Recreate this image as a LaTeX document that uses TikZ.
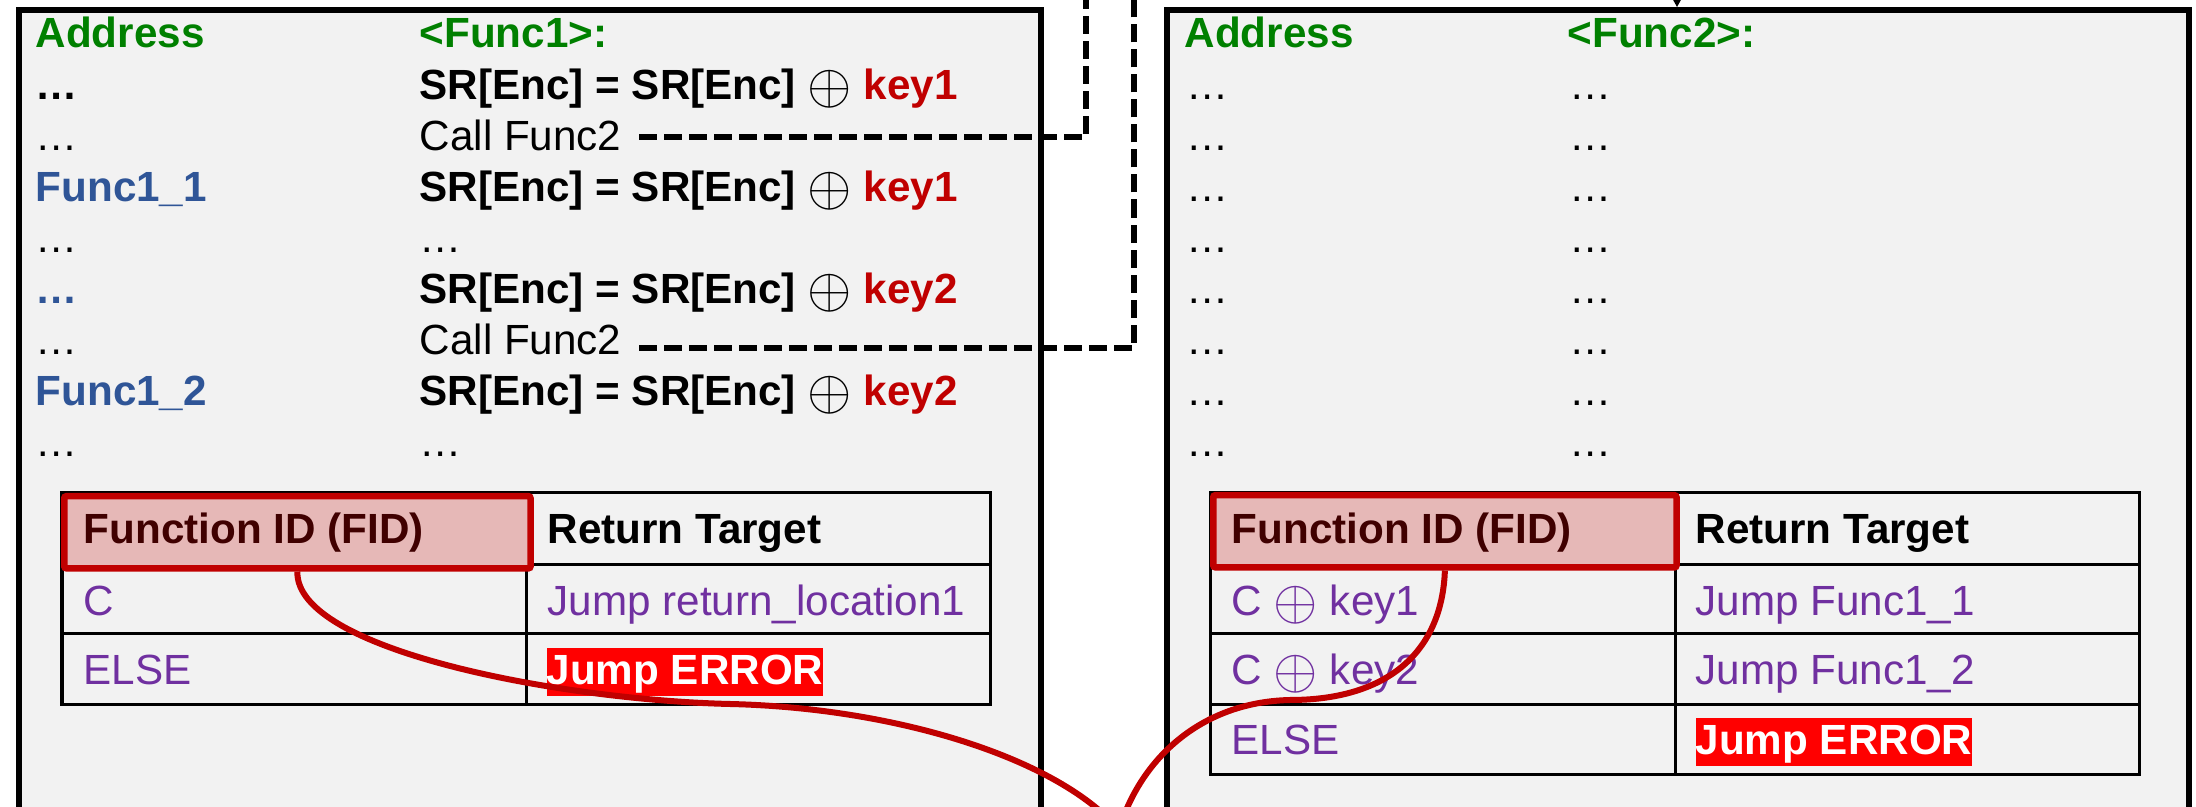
\documentclass[tikz,border=0pt]{standalone}
\usepackage{fontspec}
\setmainfont{Liberation Sans}
\usetikzlibrary{arrows.meta}

\definecolor{codegreen}{RGB}{0,128,0}
\definecolor{addrblue}{RGB}{47,85,151}
\definecolor{keyred}{RGB}{192,0,0}
\definecolor{fidpurple}{RGB}{112,48,160}
\definecolor{panelgrey}{RGB}{242,242,242}
\definecolor{fidfill}{RGB}{230,184,183}
\definecolor{fidtext}{RGB}{64,0,0}
\definecolor{errred}{RGB}{255,0,0}

% a larger, thin xor sign
\newcommand{\bigxor}{\raisebox{-0.9pt}{\scalebox{1.35}{$\oplus$}}}
% one encrypted-shadow-register update line
\newcommand{\srline}[1]{\textbf{SR[Enc] = SR[Enc] \bigxor{} \textcolor{keyred}{#1}}}

\begin{document}
\begin{tikzpicture}[x=0.01cm,y=-0.01cm,
  every node/.style={font=\fontsize{12}{14}\selectfont, inner sep=0pt},
  txt/.style={anchor=base west},
  hdr/.style={anchor=base west, text=codegreen, font=\fontsize{12}{14}\selectfont\bfseries},
  addr/.style={anchor=base west, text=addrblue, font=\fontsize{12}{14}\selectfont\bfseries},
  cell/.style={anchor=base west, text=fidpurple},
  colhead/.style={anchor=base west, font=\fontsize{12}{14}\selectfont\bfseries},
  panel/.style={draw=black, fill=panelgrey, line width=0.06cm, anchor=north west,
                minimum width=10.21cm, minimum height=9cm},
  tabline/.style={draw=black, line width=0.03cm},
  fidcell/.style={draw=keyred, fill=fidfill, line width=0.065cm, rounded corners=0.02cm,
                  anchor=north west, minimum height=0.72cm},
  errbox/.style={anchor=base west, fill=errred, text=white,
                 font=\fontsize{12}{14}\selectfont\bfseries,
                 text height=0.37cm, text depth=0.11cm},
  dashline/.style={draw=black, line width=0.055cm, dash pattern=on 0.18cm off 0.07cm},
  redcurve/.style={draw=keyred, line width=0.06cm},
]
\useasboundingbox (0,0) rectangle (2196,807);
\clip (0,0) rectangle (2196,807);
\fill[white] (0,0) rectangle (2196,807);

% ---------- panels ----------
\node[panel] (lbox) at (16,7) {};
\node[panel] (rbox) at (1164,7) {};

% ---------- Func1 listing ----------
\node[hdr] (la0) at (35,48) {Address};
\node[hdr] (lc0) at (419,48) {<Func1>:};

\node[txt, font=\fontsize{12}{14}\selectfont\bfseries] (la1) at (35,100) {…};
\node[txt] (la2) at (35,151) {…};
\node[addr] (la3) at (35,202) {Func1\_1};
\node[txt] (la4) at (35,253) {…};
\node[addr] (la5) at (35,304) {…};
\node[txt] (la6) at (35,355) {…};
\node[addr] (la7) at (35,406) {Func1\_2};
\node[txt] (la8) at (35,457) {…};

\node[txt] (lc1) at (419,100) {\srline{key1}};
\node[txt] (call1) at (419,151) {Call Func2};
\node[txt] (lc3) at (419,202) {\srline{key1}};
\node[txt] (lc4) at (419,253) {…};
\node[txt] (lc5) at (419,304) {\srline{key2}};
\node[txt] (call2) at (419,355) {Call Func2};
\node[txt] (lc7) at (419,406) {\srline{key2}};
\node[txt] (lc8) at (419,457) {…};

% ---------- Func2 listing ----------
\node[hdr] (ra0) at (1184,48) {Address};
\node[hdr] (rc0) at (1567,48) {<Func2>:};
\foreach \k in {1,...,8}{
  \node[txt] (ra\k) at (1186,{49+51*\k}) {…};
  \node[txt] (rc\k) at (1569,{49+51*\k}) {…};
}

% ---------- Func1 return table ----------
\draw[tabline] (62,493) rectangle (990,705);
\draw[tabline] (526,493) -- (526,705);
\draw[tabline] (62,565) -- (990,565);
\draw[tabline] (62,634) -- (990,634);
\node[fidcell, minimum width=4.66cm] (fid1) at (61,493) {};
\node[colhead, text=fidtext] at (83,544) {Function ID (FID)};
\node[colhead] at (547,544) {Return Target};
\node[cell] at (83,616) {C};
\node[cell] at (547,616) {Jump return\_location1};
\node[cell] at (83,685) {ELSE};
\node[errbox] (err1) at (546,685) {Jump ERROR};

% ---------- Func2 return table ----------
\draw[tabline] (1210,493) rectangle (2139,775);
\draw[tabline] (1675,493) -- (1675,775);
\draw[tabline] (1210,565) -- (2139,565);
\draw[tabline] (1210,634) -- (2139,634);
\draw[tabline] (1210,705) -- (2139,705);
\node[fidcell, minimum width=4.63cm] (fid2) at (1210,492) {};
\node[colhead, text=fidtext] at (1231,544) {Function ID (FID)};
\node[colhead] at (1695,544) {Return Target};
\node[cell] at (1231,616) {C \bigxor{} key1};
\node[cell] at (1695,616) {Jump Func1\_1};
\node[cell] at (1231,685) {C \bigxor{} key2};
\node[cell] at (1695,685) {Jump Func1\_2};
\node[cell] at (1231,755) {ELSE};
\node[errbox] (err2) at (1695,755) {Jump ERROR};

% ---------- call links ----------
\coordinate (upA) at (1086,-30);
\coordinate (upB) at (1134,-30);
\draw[dashline] ([xshift=0.17cm, yshift=0.14cm]call1.base east) -| (upA);
\draw[dashline] ([xshift=0.17cm, yshift=0.07cm]call2.base east) -| (upB);

\coordinate (entry) at (1677,-60);
\draw[line width=0.025cm, -{Stealth[length=0.1cm, width=0.11cm]}] (entry) -- (entry |- rbox.north);

% ---------- FID checks ----------
\coordinate (meet) at (1119,830);
\draw[redcurve] (fid1.south) .. controls (295,650) and (560,700) .. (730,704)
                .. controls (900,708) and (1060,760) .. (meet);
\draw[redcurve] (fid2.south) .. controls (1442,650) and (1390,700) .. (1290,700)
                .. controls (1200,702) and (1140,760) .. (meet);
\end{tikzpicture}
\end{document}
